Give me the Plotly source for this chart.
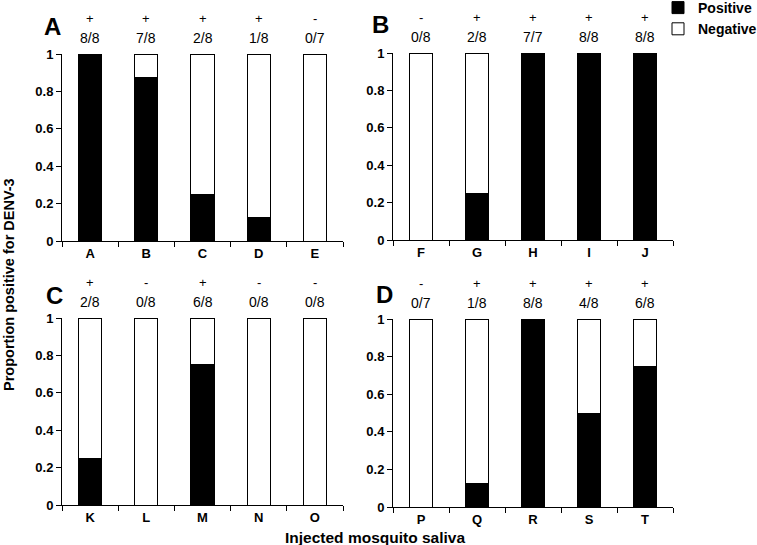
import plotly.graph_objects as go

# ---- data ----
panel_letters = ["A", "B", "C", "D"]
categories = [
    ["A", "B", "C", "D", "E"],
    ["F", "G", "H", "I", "J"],
    ["K", "L", "M", "N", "O"],
    ["P", "Q", "R", "S", "T"],
]
positives = [[8, 7, 2, 1, 0], [0, 2, 7, 8, 8], [2, 0, 6, 0, 0], [0, 1, 8, 4, 6]]
totals = [[8, 8, 8, 8, 7], [8, 8, 7, 8, 8], [8, 8, 8, 8, 8], [7, 8, 8, 8, 8]]
signs = [
    ["+", "+", "+", "+", "-"],
    ["-", "+", "+", "+", "+"],
    ["+", "-", "+", "-", "-"],
    ["-", "+", "+", "+", "+"],
]
y_ticks = [0, 0.2, 0.4, 0.6, 0.8, 1]
y_tick_labels = ["0", "0.2", "0.4", "0.6", "0.8", "1"]

# ---- layout geometry (pixels) ----
W, H = 757, 545
x_px = [(62, 343), (393, 673), (62, 343), (393, 673)]
y_px = [(54, 241), (53, 240), (318, 505), (319, 507)]  # (top, bottom)
letter_px = [(52, 26), (381, 24), (54, 295), (384, 294)]


def px_x(v):
    return v / W


def px_y(v):
    return 1 - v / H


FONT = "Liberation Sans, Arial, sans-serif"

fig = go.Figure()
annotations = []
layout_axes = {}

for i in range(4):
    n = "" if i == 0 else str(i + 1)
    xa, ya = "x" + n, "y" + n
    props = [p / t for p, t in zip(positives[i], totals[i])]
    negs = [1 - p for p in props]
    fig.add_trace(go.Bar(
        x=categories[i], y=props, name="Positive", xaxis=xa, yaxis=ya,
        marker=dict(color="black", line=dict(color="black", width=1)),
        width=0.41, showlegend=(i == 0), legendgroup="pos",
    ))
    fig.add_trace(go.Bar(
        x=categories[i], y=negs, name="Negative", xaxis=xa, yaxis=ya,
        marker=dict(color="white", line=dict(color="black", width=1)),
        width=0.41, showlegend=(i == 0), legendgroup="neg",
    ))
    x0, x1 = x_px[i]
    yt, yb = y_px[i]
    layout_axes["xaxis" + n] = dict(
        domain=[px_x(x0), px_x(x1)], anchor=ya, type="category",
        range=[-0.5, 4.5], showline=True, linecolor="black", linewidth=1,
        ticks="outside", ticklen=5, tickcolor="black", tickson="boundaries",
        tickfont=dict(family=FONT, size=13, color="black", weight="bold"),
        showgrid=False, zeroline=False, fixedrange=True, automargin=False,
    )
    layout_axes["yaxis" + n] = dict(
        domain=[px_y(yb), px_y(yt)], anchor=xa, range=[0, 1],
        tickvals=y_ticks, ticktext=y_tick_labels,
        showline=True, linecolor="black", linewidth=1,
        ticks="outside", ticklen=5, tickcolor="black",
        tickfont=dict(family=FONT, size=13, color="black", weight="bold"),
        showgrid=False, zeroline=False, fixedrange=True, automargin=False,
    )
    for c, p, t, s in zip(categories[i], positives[i], totals[i], signs[i]):
        annotations.append(dict(
            x=c, y=1.085, xref=xa, yref=ya + " domain", text=f"{p}/{t}",
            xanchor="center", yanchor="middle",
            showarrow=False, font=dict(family=FONT, size=14, color="black"),
        ))
        annotations.append(dict(
            x=c, y=1.19, xref=xa, yref=ya + " domain", text=s,
            xanchor="center", yanchor="middle",
            showarrow=False, font=dict(family=FONT, size=13, color="black"),
        ))
    lx, ly = letter_px[i]
    annotations.append(dict(
        x=px_x(lx), y=px_y(ly), xref="paper", yref="paper",
        xanchor="center", yanchor="middle",
        text=f"<b>{panel_letters[i]}</b>", showarrow=False,
        font=dict(family=FONT, size=24, color="black"),
    ))

annotations.append(dict(
    x=px_x(9), y=px_y(285), xref="paper", yref="paper", textangle=-90,
    xanchor="center", yanchor="middle",
    text="<b>Proportion positive for DENV-3</b>", showarrow=False,
    font=dict(family=FONT, size=14.5, color="black"),
))
annotations.append(dict(
    x=px_x(375), y=px_y(537), xref="paper", yref="paper",
    xanchor="center", yanchor="middle",
    text="<b>Injected mosquito saliva</b>", showarrow=False,
    font=dict(family=FONT, size=15.5, color="black"),
))

fig.update_layout(
    width=W, height=H, margin=dict(l=0, r=0, t=0, b=0, autoexpand=False),
    barmode="stack", plot_bgcolor="white", paper_bgcolor="white",
    showlegend=True, hovermode=False,
    legend=dict(
        x=px_x(658), y=px_y(-8), xanchor="left", yanchor="top",
        traceorder="normal",
        font=dict(family=FONT, size=14, color="black", weight="bold"),
        bgcolor="rgba(0,0,0,0)", tracegroupgap=0,
    ),
    annotations=annotations,
    **layout_axes,
)

fig.write_html(
    "out.html",
    config={"displayModeBar": False},
    post_script="document.body.style.margin='0';",
)
